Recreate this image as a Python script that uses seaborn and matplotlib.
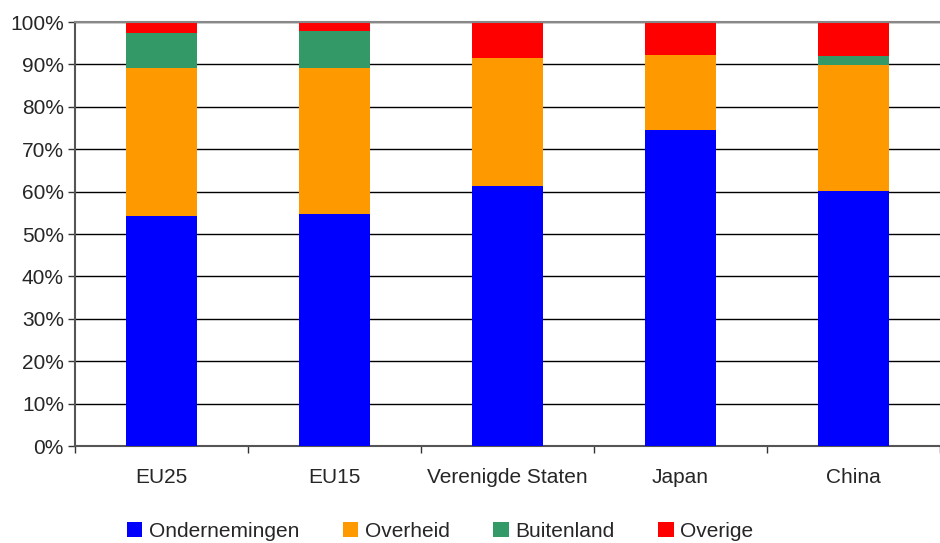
import numpy as np
import pandas as pd
import seaborn as sns
import matplotlib.pyplot as plt
from matplotlib.patches import Patch
from matplotlib.ticker import FixedLocator, PercentFormatter

regions = ['EU25', 'EU15', 'Verenigde Staten', 'Japan', 'China']
series = ['Ondernemingen', 'Overheid', 'Buitenland', 'Overige']
ondernemingen = [54.3, 54.6, 61.4, 74.6, 60.2]
overheid = [34.9, 34.6, 30.1, 17.6, 29.7]
buitenland = [8.2, 8.7, 0.0, 0.0, 2.1]
overige = [2.6, 2.1, 8.5, 7.8, 8.0]
colors = ['#0000FF', '#FF9900', '#339966', '#FF0000']

sns.set_style('white')
plt.rcParams['font.family'] = ['Liberation Sans', 'DejaVu Sans']

df = pd.DataFrame({'regio': regions, 'Ondernemingen': ondernemingen,
                   'Overheid': overheid, 'Buitenland': buitenland,
                   'Overige': overige})
cum = df[series].cumsum(axis=1)

fig = plt.figure(figsize=(9.4, 5.43), dpi=100)
ax = fig.add_axes([75 / 940, 97 / 543, 1 - 75 / 940, 424 / 543])

# stacked: draw cumulative totals from top to bottom
for s, c in reversed(list(zip(series, colors))):
    sns.barplot(x=df['regio'], y=cum[s], color=c, width=0.415,
                saturation=1, linewidth=0, ax=ax, zorder=3)

ax.set_ylim(0, 100)
ax.set_xlim(-0.5, len(regions) - 0.5)
ax.set_yticks(np.arange(0, 101, 10))
ax.yaxis.set_major_formatter(PercentFormatter(decimals=0))
ax.grid(axis='y', color='black', linewidth=1, zorder=0)
ax.set_xlabel('')
ax.set_ylabel('')

ax.spines['right'].set_visible(False)
ax.spines['top'].set_color('#888888')
ax.spines['top'].set_linewidth(1.5)
ax.spines['top'].set_zorder(4)
ax.spines['left'].set_color('#555555')
ax.spines['bottom'].set_color('#555555')
ax.spines['left'].set_linewidth(1.5)
ax.spines['bottom'].set_linewidth(1.5)

ax.tick_params(axis='y', which='major', left=True, length=5, width=1,
               labelsize=15, pad=3, color='#333333')
ax.tick_params(axis='x', which='major', bottom=False, labelsize=15, pad=12)
ax.xaxis.set_minor_locator(FixedLocator(np.arange(-0.5, len(regions), 1)))
ax.tick_params(axis='x', which='minor', bottom=True, length=5, width=1,
               color='#333333')

handles = [Patch(facecolor=c, edgecolor='none') for c in colors]
fig.legend(handles, series, loc='lower left', ncol=4, frameon=False,
           bbox_to_anchor=(108 / 940, -0.03), fontsize=15,
           handlelength=0.75, handleheight=0.75, handletextpad=0.3,
           columnspacing=2.1)

fig.savefig('out.png', dpi=100)
